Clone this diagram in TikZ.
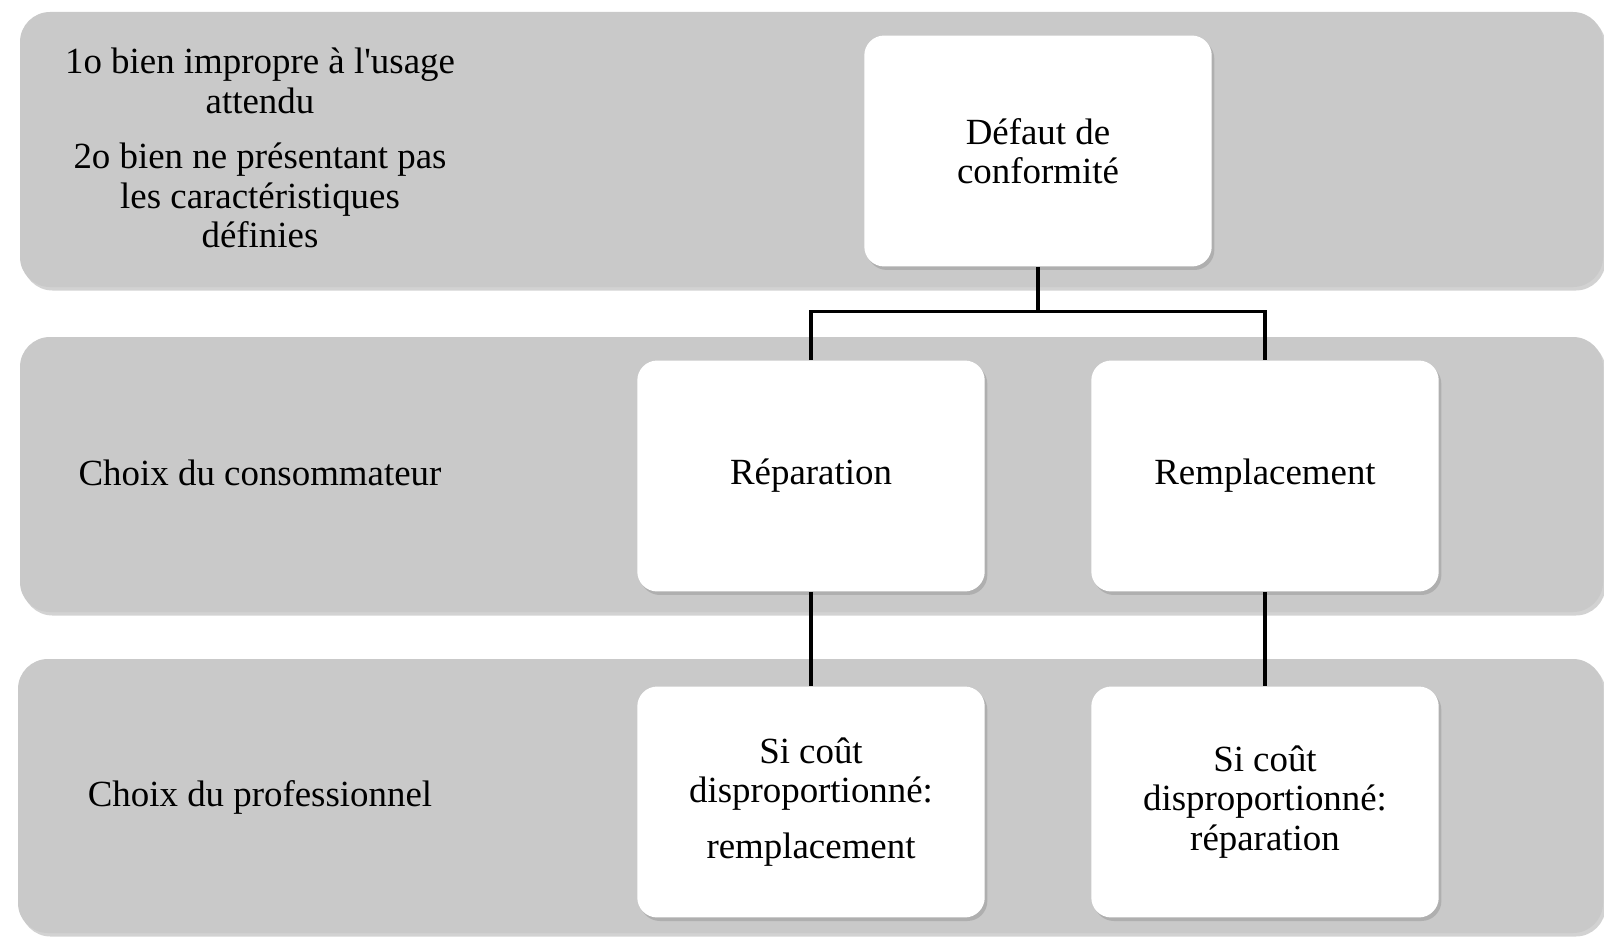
\documentclass[tikz,border=0pt]{standalone}
\usepackage{fontspec}
\setmainfont{Liberation Serif}[Ligatures=TeXOff]
\usetikzlibrary{shadows}
\definecolor{bandegris}{RGB}{201,201,201}
\tikzset{
	ombre/.style={drop shadow={opacity=0.35,shadow xshift=1.5pt,shadow yshift=-2pt}},
	bande/.style={fill=bandegris,rounded corners=0.6cm,ombre},
	boite/.style={fill=white,rounded corners=0.4cm,minimum width=6.95cm,
		minimum height=4.62cm,align=center,ombre},
	legende/.style={align=center},
	lien/.style={line width=1.8pt},
	every node/.style={font=\fontsize{21}{22.5}\selectfont}
}
\begin{document}
\begin{tikzpicture}[x=0.02cm,y=-0.02cm]
	\useasboundingbox[fill=white] (0,0) rectangle (1604,936);
	% bandes
	\path[bande] (20,12) rectangle (1603,287);
	\path[bande] (20,337) rectangle (1603,612);
	\path[bande] (18,659) rectangle (1603,933);
	% legendes
	\node[legende] (usage) at (260,148) {1o bien impropre à l'usage\\attendu\\[0.32cm]
		2o bien ne présentant pas\\les caractéristiques\\définies};
	\node[legende] (consommateur) at (260,473) {Choix du consommateur};
	\node[legende] (professionnel) at (260,797) {Choix du professionnel};
	% boites
	\node[boite] (defaut) at (1038,151) {Défaut de\\conformité};
	\node[boite] (reparation) at (811,476) {Réparation};
	\node[boite] (remplacement) at (1265,476) {Remplacement};
	\node[boite] (altremplacement) at (811,802) {Si coût\\disproportionné:\\[0.32cm]remplacement};
	\node[boite] (altreparation) at (1265,802) {Si coût\\disproportionné:\\réparation};
	% liens
	\draw[lien] (defaut.south) -- ++(0,45) coordinate (fourche);
	\draw[lien] (reparation.north) |- (fourche) -| (remplacement.north);
	\draw[lien] (reparation.south) -- (altremplacement.north);
	\draw[lien] (remplacement.south) -- (altreparation.north);
\end{tikzpicture}
\end{document}
